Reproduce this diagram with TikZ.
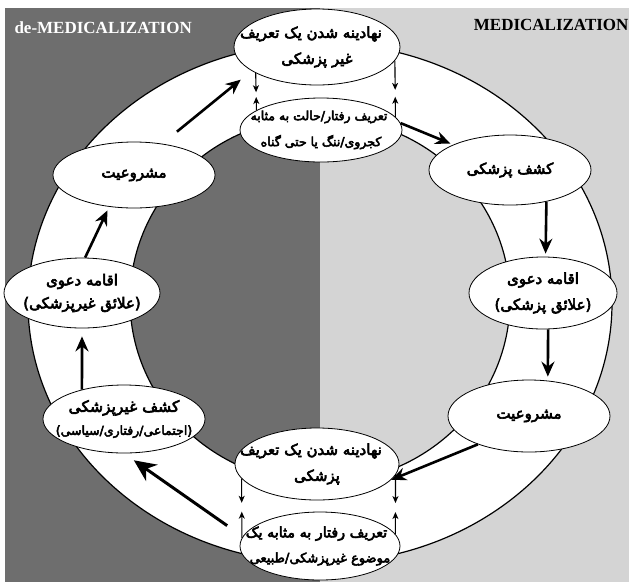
\documentclass[tikz,border=0pt]{standalone}
\usepackage{fontspec}
\setmainfont{Liberation Serif}
\newfontfamily\fa[Script=Arabic,FakeBold=4]{DejaVu Sans}
\TeXXeTstate=1
\usetikzlibrary{shapes.geometric,arrows.meta}
\definecolor{darkside}{HTML}{6E6E6E}
\definecolor{lightside}{HTML}{D4D4D4}

\begin{document}
\begin{tikzpicture}[x=1pt,y=-1pt,
  stage/.style={ellipse,draw,fill=white,line width=0.8pt,inner sep=0pt},
  stagetext/.style={font=\fa\fontsize{15}{26}\selectfont,align=center},
  bigarrow/.style={line width=2.6pt,-{Stealth[length=15pt,width=13pt,inset=5pt]}},
  smallarrow/.style={line width=1.1pt,-{Stealth[length=7pt,width=6pt,inset=2pt]}}]
\useasboundingbox (0,0) rectangle (629,582);
% two halves
\fill[darkside] (5,8) rectangle (320,582);
\fill[lightside] (320,8) rectangle (629,582);
% ring
\filldraw[fill=white,line width=1.2pt,even odd rule]
  (320,303) ellipse [x radius=292pt,y radius=260pt]
  (320,300) ellipse [x radius=190pt,y radius=183pt];
\node[font=\bfseries\fontsize{17}{17}\selectfont,text=white,anchor=west] (demed) at (11,28) {de-MEDICALIZATION};
\node[font=\bfseries\fontsize{17}{17}\selectfont,anchor=east] (med) at (632,25) {MEDICALIZATION};
% stages
\node[stage,minimum width=166pt,minimum height=76pt,label={[stagetext]center:{\beginR نهادینه شدن یک تعریف\endR\hspace*{12pt}\\\beginR غیر پزشکی\endR}}] (e1) at (317,47) {};
\node[stage,minimum width=162pt,minimum height=64pt,label={[stagetext,font=\fa\fontsize{12.5}{26}\selectfont]center:{\beginR تعریف رفتار/حالت به مثابه\endR\hspace*{4pt}\\\beginR کجروی/ننگ یا حتی گناه\endR}}] (e2) at (321,130) {};
\node[stage,minimum width=162pt,minimum height=70pt,label={[stagetext]center:{\beginR کشف پزشکی\endR}}] (e3) at (510,170) {};
\node[stage,minimum width=148pt,minimum height=72pt,label={[stagetext]center:{\beginR اقامه دعوی\endR\\\beginR (علائق پزشکی)\endR}}] (e4) at (543,293) {};
\node[stage,minimum width=162pt,minimum height=72pt,label={[stagetext]center:{\beginR مشروعیت\endR}}] (e5) at (529,416) {};
\node[stage,minimum width=164pt,minimum height=72pt,label={[stagetext]center:{\beginR نهادینه شدن یک تعریف\endR\hspace*{12pt}\\\beginR پزشکی\endR}}] (e6) at (317,464) {};
\node[stage,minimum width=160pt,minimum height=68pt,label={[stagetext,font=\fa\fontsize{14.3}{25}\selectfont]center:{\beginR تعریف رفتار به مثابه یک\endR\hspace*{7pt}\\\fontsize{13}{25}\selectfont\beginR موضوع غیرپزشکی/طبیعی\endR}}] (e7) at (320,546) {};
\node[stage,minimum width=162pt,minimum height=68pt,label={[stagetext,font=\fa\fontsize{15.5}{23}\selectfont]center:{\beginR کشف غیرپزشکی\endR\\\fontsize{12.5}{23}\selectfont\beginR (اجتماعی/رفتاری/سیاسی)\endR}}] (e8) at (124,419) {};
\node[stage,minimum width=156pt,minimum height=70pt,label={[stagetext,font=\fa\fontsize{15}{23}\selectfont]center:{\beginR اقامه دعوی\endR\\\beginR (علائق غیرپزشکی)\endR}}] (e9) at (82,293) {};
\node[stage,minimum width=162pt,minimum height=66pt,label={[stagetext]center:{\beginR مشروعیت\endR}}] (e10) at (134,175) {};
% medicalization side
\draw[bigarrow,shorten >=3pt] (e2.5) -- (e3.156);
\draw[bigarrow,shorten >=3pt] (e3.-41) -- (e4.86);
\draw[bigarrow,shorten >=4pt] (e4.-82) -- (e5.62);
\draw[bigarrow] (e5.209) -- (e6.-12);
% de-medicalization side
\draw[bigarrow,line width=3pt,-{Stealth[length=22pt,width=20pt,inset=7pt]},shorten <=19pt,shorten >=12pt] (e7.173) -- (e8.south);
\draw[bigarrow,shorten >=8pt] (e8.145) -- (e9.south);
\draw[bigarrow,shorten >=4pt] (e9.85) -- (e10.232);
\draw[bigarrow,shorten <=19pt,shorten >=14pt] (e10.48) -- (e1.200);
% small arrows
\draw[smallarrow,shorten >=18pt] (e1.203) -- (e2.163);
\draw[smallarrow,shorten >=24pt] (e2.163) -- (e1.203);
\draw[smallarrow,shorten >=27pt] (e1.-10) -- (e2.10);
\draw[smallarrow,shorten >=36pt] (e2.10) -- (e1.-10);
\draw[smallarrow,shorten >=35pt] (e6.191) -- (e7.174);
\draw[smallarrow,shorten >=33pt] (e7.174) -- (e6.191);
\draw[smallarrow,shorten >=31pt] (e6.-8) -- (e7.9);
\draw[smallarrow,shorten >=37pt] (e7.9) -- (e6.-8);
\end{tikzpicture}
\end{document}
